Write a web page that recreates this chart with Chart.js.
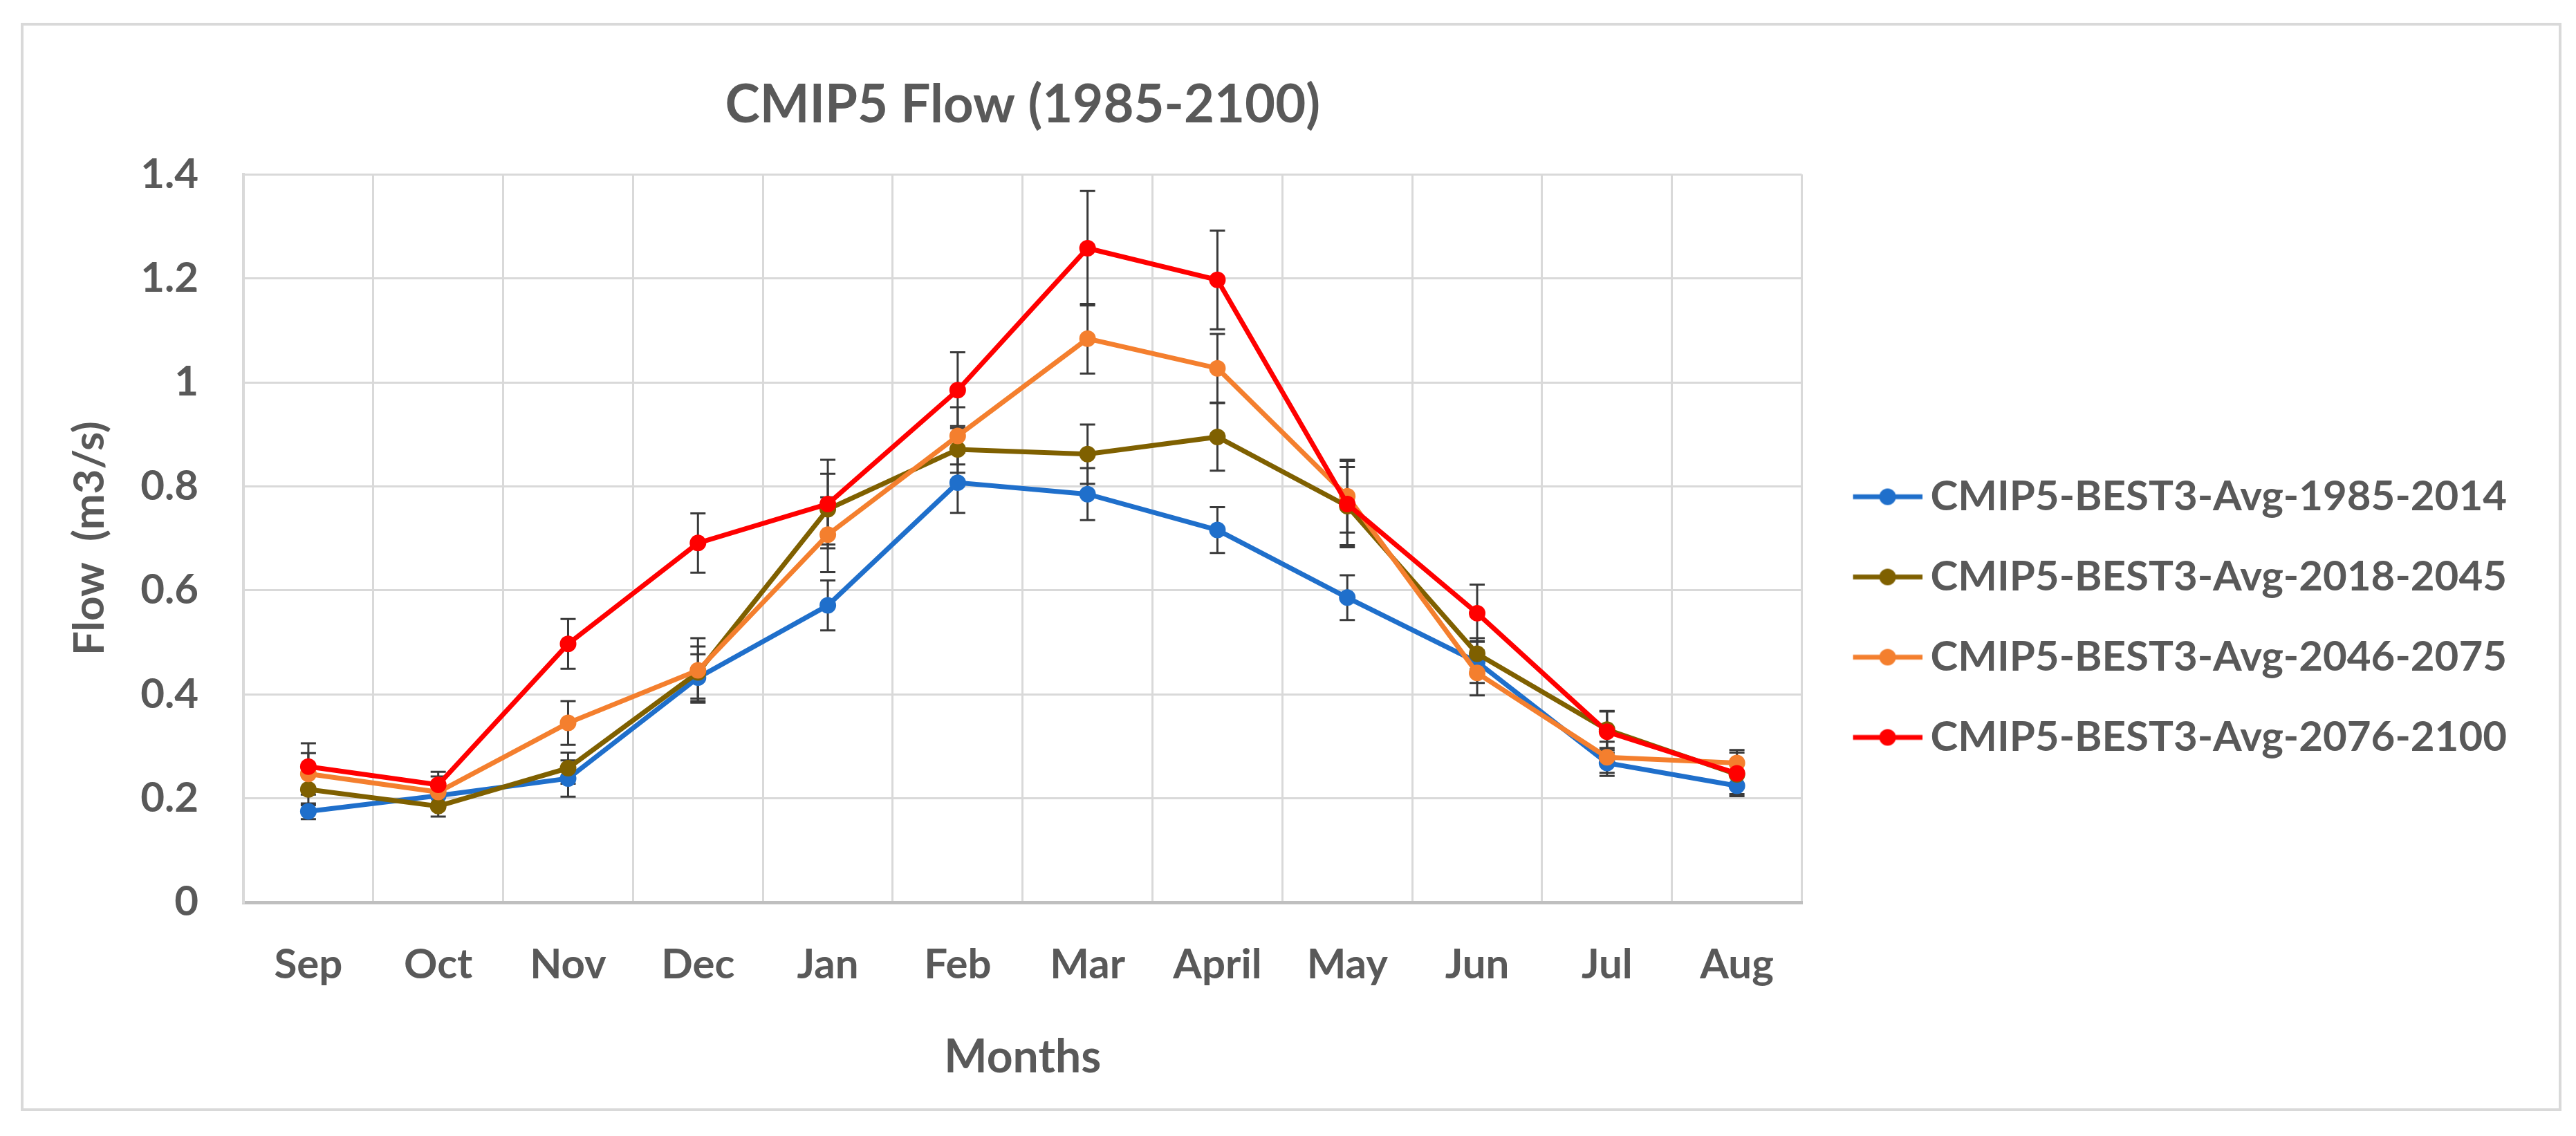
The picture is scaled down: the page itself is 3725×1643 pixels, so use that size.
<!DOCTYPE html>
<html>
<head>
<meta charset="utf-8">
<script src="https://cdn.jsdelivr.net/npm/chart.js@4.4.1/dist/chart.umd.min.js"></script>
<style>
  html, body { margin: 0; padding: 0; background: #fff; }
  #wrap { position: relative; width: 3725px; height: 1643px; }
</style>
</head>
<body>
<div id="wrap"><canvas id="chart" width="3725" height="1643"></canvas></div>
<script>
// months on the x axis (water year order)
const months = ['Sep', 'Oct', 'Nov', 'Dec', 'Jan', 'Feb', 'Mar', 'April', 'May', 'Jun', 'Jul', 'Aug'];
const yTicks = [0, 0.2, 0.4, 0.6, 0.8, 1, 1.2, 1.4];

const seriesNames = [
  'CMIP5-BEST3-Avg-1985-2014',
  'CMIP5-BEST3-Avg-2018-2045',
  'CMIP5-BEST3-Avg-2046-2075',
  'CMIP5-BEST3-Avg-2076-2100'
];
const seriesColors = ['#1F6FCB', '#7F6000', '#F47F2E', '#FF0000'];

// mean flow (m3/s)
const flow1985 = [0.175, 0.205, 0.238, 0.432, 0.571, 0.807, 0.785, 0.716, 0.586, 0.462, 0.268, 0.224];
const flow2018 = [0.217, 0.185, 0.258, 0.442, 0.756, 0.871, 0.862, 0.895, 0.762, 0.478, 0.332, 0.246];
const flow2046 = [0.247, 0.212, 0.345, 0.446, 0.707, 0.897, 1.084, 1.027, 0.781, 0.441, 0.279, 0.268];
const flow2076 = [0.261, 0.226, 0.497, 0.691, 0.766, 0.985, 1.258, 1.197, 0.766, 0.556, 0.328, 0.248];

// +/- error bar half-lengths
const err1985 = [0.015, 0.02, 0.035, 0.045, 0.048, 0.058, 0.05, 0.044, 0.043, 0.04, 0.025, 0.02];
const err2018 = [0.03, 0.02, 0.03, 0.05, 0.068, 0.045, 0.057, 0.065, 0.075, 0.03, 0.035, 0.02];
const err2046 = [0.04, 0.03, 0.042, 0.062, 0.072, 0.055, 0.067, 0.066, 0.07, 0.043, 0.03, 0.025];
const err2076 = [0.045, 0.025, 0.048, 0.057, 0.085, 0.073, 0.11, 0.095, 0.083, 0.055, 0.04, 0.04];

const flows = [flow1985, flow2018, flow2046, flow2076];
const errors = [err1985, err2018, err2046, err2076];

const textColor = '#595959';
const gridColor = '#D9D9D9';

// legend swatch: short line with a dot; the transparent left part pushes it
// to the right so it sits just before the label text
function legendIcon(color) {
  const c = document.createElement('canvas');
  c.width = 136;
  c.height = 30;
  const g = c.getContext('2d');
  g.strokeStyle = color;
  g.lineWidth = 7;
  g.beginPath();
  g.moveTo(36, 15);
  g.lineTo(136, 15);
  g.stroke();
  g.fillStyle = color;
  g.beginPath();
  g.arc(86, 15, 12, 0, Math.PI * 2);
  g.fill();
  return c;
}

// white page + light frame round the whole figure
const framePlugin = {
  id: 'frame',
  beforeDraw(chart) {
    const ctx = chart.ctx;
    ctx.save();
    ctx.fillStyle = '#fff';
    ctx.fillRect(0, 0, chart.width, chart.height);
    ctx.strokeStyle = '#D9D9D9';
    ctx.lineWidth = 4;
    ctx.strokeRect(32, 35, 3670, 1570);
    ctx.restore();
  }
};

// vertical error bars with caps, positioned through the chart scales
const errorBarPlugin = {
  id: 'errorBars',
  beforeDatasetsDraw(chart) {
    const ctx = chart.ctx;
    const yScale = chart.scales.y;
    ctx.save();
    ctx.strokeStyle = '#3A3A3A';
    ctx.lineWidth = 3;
    chart.data.datasets.forEach((ds, di) => {
      const meta = chart.getDatasetMeta(di);
      ds.data.forEach((v, i) => {
        const e = errors[di][i];
        const x = meta.data[i].x;
        const yTop = yScale.getPixelForValue(v + e);
        const yBot = yScale.getPixelForValue(v - e);
        ctx.beginPath();
        ctx.moveTo(x, yTop);
        ctx.lineTo(x, yBot);
        ctx.moveTo(x - 11, yTop);
        ctx.lineTo(x + 11, yTop);
        ctx.moveTo(x - 11, yBot);
        ctx.lineTo(x + 11, yBot);
        ctx.stroke();
      });
    });
    ctx.restore();
  }
};

function draw() {
  const icons = seriesColors.map(legendIcon);

  new Chart(document.getElementById('chart'), {
    type: 'line',
    plugins: [framePlugin, errorBarPlugin],
    data: {
      labels: months,
      datasets: seriesNames.map((name, i) => ({
        label: name,
        data: flows[i],
        borderColor: seriesColors[i],
        backgroundColor: seriesColors[i],
        borderWidth: 7,
        pointRadius: 12,
        pointBorderWidth: 0,
        pointBackgroundColor: seriesColors[i],
        tension: 0,
        fill: false,
        order: seriesNames.length - i // later series on top, like the original
      }))
    },
    options: {
      responsive: false,
      devicePixelRatio: 1,
      animation: false,
      layout: {
        padding: { left: 60, right: 90, top: 98, bottom: 60 }
      },
      scales: {
        x: {
          offset: true,
          grid: { offset: true, color: gridColor, lineWidth: 3, drawTicks: false },
          border: { display: true, color: '#BFBFBF', width: 5 },
          ticks: {
            color: textColor,
            padding: 55,
            font: { family: 'Lato', weight: 'bold', size: 60 }
          },
          title: {
            display: true,
            text: 'Months',
            color: textColor,
            padding: 14,
            font: { family: 'Lato', weight: 'bold', size: 66 }
          },
          afterFit(scale) { scale.height = 278; }
        },
        y: {
          min: 0,
          max: 1.4,
          grid: { color: gridColor, lineWidth: 3, drawTicks: false },
          border: { display: true, color: gridColor, width: 4 },
          afterBuildTicks(scale) { scale.ticks = yTicks.map(v => ({ value: v })); },
          ticks: {
            color: textColor,
            padding: 65,
            font: { family: 'Lato', weight: 'bold', size: 60 },
            callback: v => String(v)
          },
          title: {
            display: true,
            text: 'Flow  (m3/s)',
            color: textColor,
            padding: 33,
            font: { family: 'Lato', weight: 'bold', size: 62 }
          },
          afterFit(scale) { scale.width = 292; }
        }
      },
      plugins: {
        title: {
          display: true,
          text: 'CMIP5 Flow (1985-2100)',
          color: textColor,
          fullSize: false,
          padding: { top: 9, bottom: 54 },
          font: { family: 'Lato', weight: 'bold', size: 76 }
        },
        legend: {
          position: 'right',
          maxWidth: 1600,
          title: { display: true, text: '', padding: { top: 104, bottom: 0 }, font: { size: 1, lineHeight: 0 } },
          labels: {
            usePointStyle: true,
            pointStyleWidth: 100,
            padding: 56,
            color: textColor,
            font: { family: 'Lato', weight: 'bold', size: 60 },
            generateLabels: chart => chart.data.datasets.map((ds, i) => ({
              text: ds.label,
              datasetIndex: i,
              pointStyle: icons[i],
              fillStyle: ds.borderColor,
              strokeStyle: ds.borderColor,
              lineWidth: 0,
              fontColor: textColor,
              hidden: false
            }))
          }
        },
        tooltip: { enabled: false }
      }
    }
  });
}

document.fonts.load('bold 60px Lato').then(draw, draw);
</script>
</body>
</html>
